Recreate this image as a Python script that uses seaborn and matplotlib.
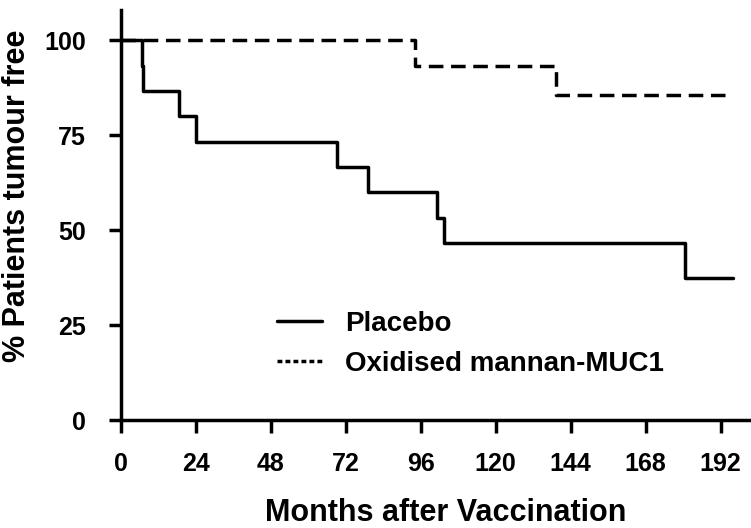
import matplotlib
matplotlib.use('Agg')
import matplotlib.pyplot as plt
import seaborn as sns
from matplotlib.lines import Line2D

# Kaplan-Meier style step data
placebo_months = [0, 6.7, 7.2, 18.8, 24.1, 69.1, 79.2, 101.1, 103.5, 180.6, 196]
placebo_pct = [100, 93.3, 86.7, 80.0, 73.3, 66.7, 60.0, 53.3, 46.7, 37.3, 37.3]

mannan_months = [0, 94.2, 139.3, 194.3]
mannan_pct = [100, 93.3, 85.6, 85.6]

x_ticks = [0, 24, 48, 72, 96, 120, 144, 168, 192]
y_ticks = [0, 25, 50, 75, 100]

sns.set_style('ticks')
plt.rcParams['font.family'] = ['Liberation Sans', 'DejaVu Sans']
plt.rcParams['font.weight'] = 'bold'
plt.rcParams['axes.labelweight'] = 'bold'
plt.rcParams['text.color'] = 'black'
plt.rcParams['axes.labelcolor'] = 'black'
plt.rcParams['xtick.color'] = 'black'
plt.rcParams['ytick.color'] = 'black'
plt.rcParams['axes.edgecolor'] = 'black'

fig = plt.figure(figsize=(7.51, 5.28), dpi=100)
ax = fig.add_axes([0.1607, 0.2045, 0.857, 0.7765])

sns.lineplot(x=placebo_months, y=placebo_pct, estimator=None, drawstyle='steps-post',
             color='black', lw=2.5, ax=ax, legend=False)
sns.lineplot(x=mannan_months, y=mannan_pct, estimator=None, drawstyle='steps-post',
             color='black', lw=2.5, linestyle=(0, (4.2, 2.2)), ax=ax, legend=False)

ax.set_xlim(0, 206)
ax.set_ylim(0, 108)
ax.set_xticks(x_ticks)
ax.set_yticks(y_ticks)
sns.despine(ax=ax)
for s in ['left', 'bottom']:
    ax.spines[s].set_linewidth(2.5)
ax.tick_params(axis='both', length=9, width=2.5, labelsize=18)
ax.tick_params(axis='x', pad=14)
ax.tick_params(axis='y', pad=16)

ax.set_xlabel('Months after Vaccination', fontsize=22)
ax.set_ylabel('% Patients tumour free', fontsize=22)
ax.xaxis.set_label_coords((446 - 120.7) / (0.857 * 751), -(498 - 420) / (0.7765 * 528))
ax.yaxis.set_label_coords(-(120.7 - 32) / (0.857 * 751), (420 - 196) / (0.7765 * 528))

handles = [Line2D([], [], color='black', lw=2.5),
           Line2D([], [], color='black', lw=2.5, linestyle=(0, (1.4, 0.9)))]
ax.legend(handles, ['Placebo', 'Oxidised mannan-MUC1'], loc='upper left',
          bbox_to_anchor=(277 / 751, 1 - 311 / 528), bbox_transform=fig.transFigure,
          frameon=False, fontsize=20, handlelength=1.62, handletextpad=0.83,
          labelspacing=0.5, borderpad=0, borderaxespad=0)

fig.savefig('out.png', dpi=100)
